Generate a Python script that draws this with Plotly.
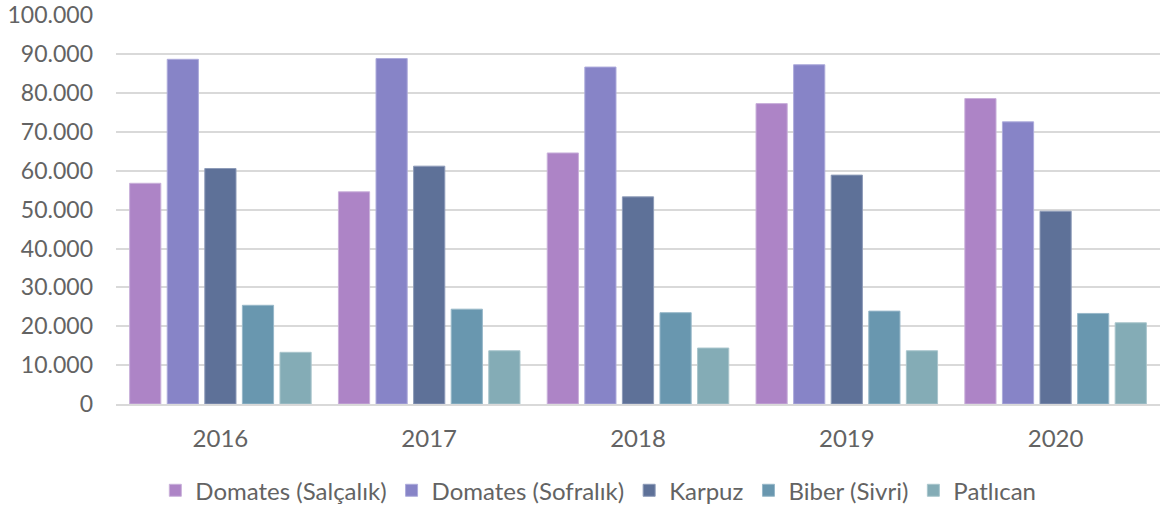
import plotly.graph_objects as go

years = ["2016", "2017", "2018", "2019", "2020"]
series_names = ["Domates (Salçalık)", "Domates (Sofralık)", "Karpuz", "Biber (Sivri)", "Patlıcan"]
salcalik = [56800, 54600, 64600, 77300, 78600]
sofralik = [88700, 88900, 86700, 87300, 72600]
karpuz = [60600, 61200, 53300, 58900, 49600]
biber = [25400, 24400, 23500, 23900, 23300]
patlican = [13300, 13700, 14400, 13700, 20900]
tick_vals = [0, 10000, 20000, 30000, 40000, 50000, 60000, 70000, 80000, 90000, 100000]

colors = ["#AD84C6", "#8784C7", "#5E7198", "#6997AF", "#84ACB6"]
edges = ["#C9B0DA", "#ADABDB", "#8D9BB8", "#97B8C9", "#A9C5CC"]

fig = go.Figure()
for name, vals, c, e in zip(series_names, [salcalik, sofralik, karpuz, biber, patlican], colors, edges):
    fig.add_trace(go.Bar(x=years, y=vals, name=name,
                         marker=dict(color=c, line=dict(color=e, width=1))))

font = "Lato"
txt = "#636363"
fig.update_layout(
    width=1171, height=510,
    margin=dict(l=116, r=11, t=15, b=106, autoexpand=False),
    paper_bgcolor="white", plot_bgcolor="white",
    barmode="group", bargap=0.1, bargroupgap=0.17,
    separators=",.",
    font=dict(family=font, color=txt, size=24),
    legend=dict(orientation="h", x=0.462, xanchor="center", y=-0.165, yanchor="top",
                font=dict(size=24, color=txt), itemwidth=30,
                traceorder="normal"),
    showlegend=True,
)
fig.update_yaxes(range=[0, 100100], tickvals=tick_vals, tickformat=",d",
                 showgrid=True, gridcolor="#D9D9D9", gridwidth=1.5,
                 zeroline=False, showline=False, ticklabelstandoff=22, automargin=False,
                 ticklabeloverflow="allow",
                 tickfont=dict(size=23, color=txt))
fig.update_xaxes(showline=True, linecolor="#D9D9D9", linewidth=1.5, automargin=False,
                 tickfont=dict(size=24, color=txt), ticklabelstandoff=12)

fig.write_html("out.html", config={"displayModeBar": False},
               post_script="document.body.style.margin='0';")
